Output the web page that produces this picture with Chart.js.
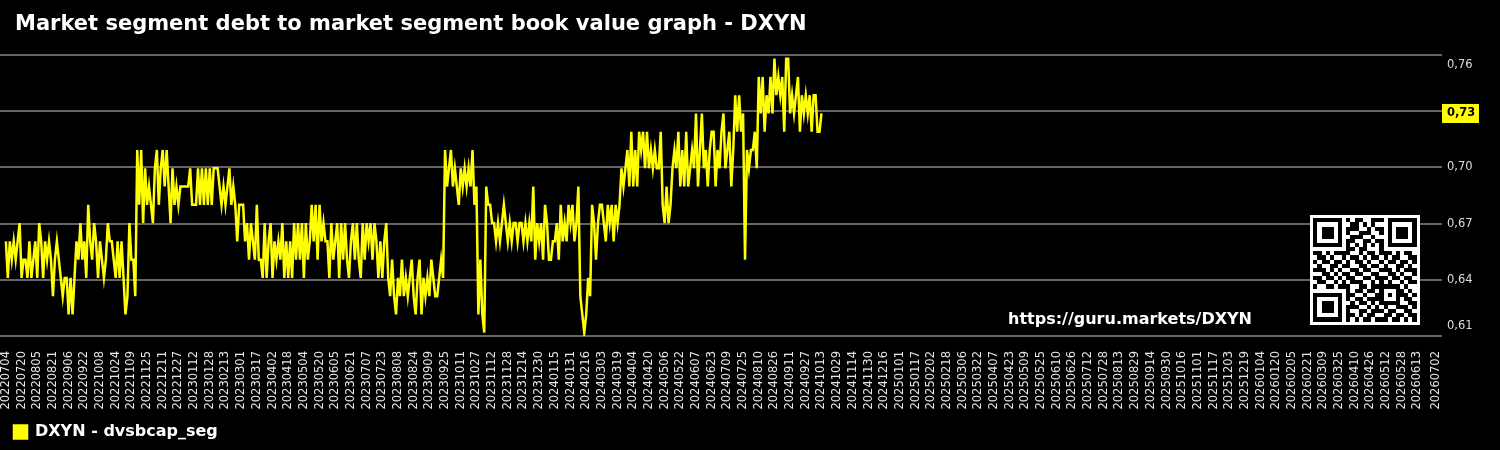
<!DOCTYPE html>
<html>
<head>
<meta charset="utf-8">
<script src="https://cdn.jsdelivr.net/npm/chart.js@4.4.1/dist/chart.umd.min.js"></script>
<style>
  html, body { margin: 0; padding: 0; background: #000; }
  canvas { display: block; }
</style>
</head>
<body>
<canvas id="chart" width="1500" height="450"></canvas>
<script>
// titles / labels
const chartTitle = 'Market segment debt to market segment book value graph - DXYN';
const seriesName = 'DXYN - dvsbcap_seg';
const siteUrl = 'https://guru.markets/DXYN';

// x axis tick labels (every 16 days, plus the last one)
const tickLabels = [
  '20220704','20220720','20220805','20220821','20220906','20220922','20221008','20221024',
  '20221109','20221125','20221211','20221227','20230112','20230128','20230213','20230301',
  '20230317','20230402','20230418','20230504','20230520','20230605','20230621','20230707',
  '20230723','20230808','20230824','20230909','20230925','20231011','20231027','20231112',
  '20231128','20231214','20231230','20240115','20240131','20240216','20240303','20240319',
  '20240404','20240420','20240506','20240522','20240607','20240623','20240709','20240725',
  '20240810','20240826','20240911','20240927','20241013','20241029','20241114','20241130',
  '20241216','20250101','20250117','20250202','20250218','20250306','20250322','20250407',
  '20250423','20250509','20250525','20250610','20250626','20250712','20250728','20250813',
  '20250829','20250914','20250930','20251016','20251101','20251117','20251203','20251219',
  '20260104','20260120','20260205','20260221','20260309','20260325','20260410','20260426',
  '20260512','20260528','20260613','20260702'
];

// series: one reading every 2 days starting at seriesStart
const seriesStart = '20220704';
const stepDays = 2;
const dvsbcapSeg = [
  0.66,0.64,0.66,0.65,0.66,0.65,0.66,0.67,0.64,0.65,
  0.65,0.64,0.66,0.64,0.65,0.66,0.64,0.67,0.66,0.64,
  0.66,0.65,0.66,0.65,0.63,0.65,0.66,0.65,0.64,0.63,
  0.64,0.64,0.62,0.64,0.62,0.64,0.66,0.65,0.67,0.65,
  0.66,0.64,0.68,0.66,0.65,0.67,0.66,0.64,0.66,0.65,
  0.64,0.65,0.67,0.66,0.66,0.65,0.64,0.66,0.64,0.66,
  0.64,0.62,0.63,0.67,0.65,0.65,0.63,0.71,0.68,0.71,
  0.67,0.70,0.68,0.69,0.68,0.67,0.70,0.71,0.68,0.70,
  0.71,0.69,0.71,0.69,0.67,0.70,0.68,0.69,0.68,0.69,
  0.69,0.69,0.69,0.69,0.70,0.68,0.68,0.68,0.70,0.68,
  0.70,0.68,0.70,0.68,0.70,0.68,0.70,0.70,0.70,0.69,
  0.68,0.69,0.68,0.69,0.70,0.68,0.69,0.68,0.66,0.68,
  0.68,0.68,0.66,0.67,0.65,0.67,0.66,0.65,0.68,0.65,
  0.65,0.64,0.67,0.64,0.66,0.67,0.64,0.66,
  0.65,0.66,0.65,0.67,0.64,0.66,0.64,0.66,0.64,0.67,
  0.65,0.67,0.65,0.67,0.64,0.67,0.65,0.66,0.68,0.66,
  0.68,0.65,0.68,0.66,0.67,0.66,0.66,0.64,0.67,0.65,
  0.66,0.67,0.64,0.67,0.65,0.67,0.65,0.64,0.66,0.67,
  0.65,0.67,0.65,0.64,0.67,0.65,0.67,0.66,0.67,0.65,
  0.67,0.66,0.64,0.66,0.64,0.66,0.67,0.64,0.63,0.65,
  0.63,0.62,0.64,0.63,0.65,0.63,0.64,0.63,0.64,0.65,
  0.63,0.62,0.64,0.65,0.62,0.64,0.63,0.64,0.63,0.65,
  0.64,0.63,0.63,0.64,0.65,0.64,0.71,0.69,0.70,0.71,
  0.69,0.70,0.69,0.68,0.70,0.69,0.70,0.69,0.70,0.69,
  0.71,0.68,0.69,0.62,0.65,0.62,0.61,0.69,0.68,0.68,
  0.67,0.67,0.66,0.67,0.66,0.67,0.68,0.67,0.66,0.67,
  0.66,0.67,0.67,0.66,0.67,0.67,0.66,0.67,0.66,0.67,
  0.66,0.69,0.65,0.67,0.66,0.67,0.65,
  0.68,0.67,0.65,0.65,0.66,0.66,0.67,0.65,0.68,0.66,
  0.67,0.66,0.68,0.67,0.68,0.66,0.67,0.69,0.63,0.62,
  0.61,0.62,0.64,0.63,0.68,0.67,0.65,0.67,0.68,0.68,
  0.67,0.66,0.68,0.67,0.68,0.66,0.68,0.67,0.68,0.70,
  0.69,0.70,0.71,0.69,0.72,0.69,0.71,0.69,0.72,0.71,
  0.72,0.70,0.72,0.70,0.71,0.70,0.71,0.70,0.70,0.72,
  0.68,0.67,0.69,0.67,0.68,0.70,0.71,0.70,0.72,0.69,
  0.71,0.69,0.72,0.69,0.70,0.71,0.70,0.73,0.69,0.71,
  0.73,0.70,0.71,0.69,0.71,0.72,0.72,0.69,0.71,0.70,
  0.72,0.73,0.70,0.71,0.72,0.69,0.71,0.74,0.72,0.74,
  0.72,0.73,0.65,0.71,0.70,0.71,0.71,0.72,0.70,0.75,
  0.73,0.75,0.72,0.74,0.73,0.75,0.73,0.76,0.74,0.75,
  0.74,0.75,0.72,0.76,0.76,0.73,0.74,0.73,0.74,0.75,
  0.72,0.74,0.73,0.74,0.73,0.74,0.72,0.74,0.74,0.72,
  0.72,0.73
];

// y range (5 equal grid steps, labels rounded to 2 decimals)
const yMin = 0.6082;
const yMax = 0.762;

// QR code modules (1 = dark)
const qrRows = [
  '1111111010110011101111111',
  '1000001001101010001000001',
  '1011101011100101101011101',
  '1011101010011100101011101',
  '1011101001110010001011101',
  '1000001011001101101000001',
  '1111111010101010101111111',
  '0000000011011000100000000',
  '1101011110010110111010110',
  '0110100101101011010110011',
  '1011011010110100101101101',
  '0100110110011011010011010',
  '1110101001101100111010111',
  '0011010110110011001101001',
  '1101101011001101110110110',
  '0110010101110010101001011',
  '1001101110011011111110100',
  '0000000010110110100011010',
  '1111111011001001101011101',
  '1000001010110111100010110',
  '1011101001011010111110011',
  '1011101011100101010011101',
  '1011101010011011101100110',
  '1000001011010110011011011',
  '1111111010101101110110101'
];

const FONT = '"DejaVu Sans", sans-serif';
const DAY = 86400000;

function toDay(s) {
  const t = Date.UTC(+s.slice(0, 4), +s.slice(4, 6) - 1, +s.slice(6, 8));
  return Math.round(t / DAY);
}
const day0 = toDay(tickLabels[0]);
const tickDays = tickLabels.map(s => toDay(s) - day0);
const startOffset = toDay(seriesStart) - day0;
const points = dvsbcapSeg.map((v, i) => ({ x: startOffset + i * stepDays, y: v }));
const lastValue = dvsbcapSeg[dvsbcapSeg.length - 1];

function fmt(v) {
  return v.toFixed(2).replace('.', ',');
}

const decor = {
  id: 'decor',
  beforeDraw(chart) {
    const ctx = chart.ctx;
    ctx.save();
    ctx.fillStyle = '#000';
    ctx.fillRect(0, 0, chart.width, chart.height);
    ctx.restore();
  },
  afterDraw(chart) {
    const ctx = chart.ctx;
    const y = chart.scales.y;
    const area = chart.chartArea;
    ctx.save();

    // title
    ctx.fillStyle = '#ffffff';
    ctx.font = 'bold 21px ' + FONT;
    ctx.textBaseline = 'middle';
    ctx.textAlign = 'left';
    ctx.fillText(chartTitle, 15, 25);

    // y tick labels
    ctx.font = '11.5px ' + FONT;
    ctx.fillStyle = '#dddddd';
    const n = y.ticks.length;
    y.ticks.forEach((t, i) => {
      let py = y.getPixelForValue(t.value);
      if (i === 0) py -= 10;
      if (i === n - 1) py += 10;
      ctx.fillText(fmt(t.value), area.right + 5, py);
    });

    // last value badge
    const ly = y.getPixelForValue(lastValue);
    ctx.fillStyle = '#ffff00';
    ctx.fillRect(area.right, ly - 9.5, 37, 19);
    ctx.fillStyle = '#000000';
    ctx.font = 'bold 11.5px ' + FONT;
    ctx.fillText(fmt(lastValue), area.right + 5, ly);

    // url
    ctx.fillStyle = '#ffffff';
    ctx.font = 'bold 16px ' + FONT;
    ctx.textAlign = 'right';
    ctx.fillText(siteUrl, 1252, 320);

    // qr code
    const qx = 1310, qy = 215, qs = 110;
    ctx.fillStyle = '#ffffff';
    ctx.fillRect(qx, qy, qs, qs);
    const m = 4.13, off = 3.3;
    ctx.fillStyle = '#000000';
    qrRows.forEach((row, r) => {
      for (let c = 0; c < row.length; c++) {
        if (row[c] === '1') {
          const x0 = Math.round(qx + off + c * m), y0 = Math.round(qy + off + r * m);
          const x1 = Math.round(qx + off + (c + 1) * m), y1 = Math.round(qy + off + (r + 1) * m);
          ctx.fillRect(x0, y0, x1 - x0, y1 - y0);
        }
      }
    });
    ctx.restore();
  }
};

new Chart(document.getElementById('chart'), {
  type: 'line',
  data: {
    datasets: [{
      label: seriesName,
      data: points,
      borderColor: '#ffff00',
      backgroundColor: '#ffff00',
      borderWidth: 2.5,
      pointRadius: 0,
      tension: 0,
      fill: false
    }]
  },
  options: {
    responsive: false,
    animation: false,
    layout: { padding: { top: 55, left: 0, right: 0, bottom: 0 } },
    plugins: {
      title: { display: false },
      tooltip: { enabled: false },
      legend: {
        position: 'bottom',
        align: 'start',
        labels: {
          boxWidth: 13,
          boxHeight: 13,
          padding: 14,
          color: '#ffffff',
          font: { family: FONT, size: 16, weight: 'bold' }
        }
      }
    },
    scales: {
      x: {
        type: 'linear',
        min: -6,
        max: 1465,
        grid: { display: false, drawTicks: false },
        border: { display: false },
        afterBuildTicks: s => { s.ticks = tickDays.map(v => ({ value: v })); },
        afterFit: s => { s.height = 74; s.paddingLeft = 0; s.paddingRight = 0; },
        ticks: {
          autoSkip: false,
          minRotation: 90,
          maxRotation: 90,
          padding: 15,
          color: '#e6e6e6',
          font: { family: FONT, size: 11.5 },
          callback: (v, i) => tickLabels[i]
        }
      },
      y: {
        position: 'right',
        min: yMin,
        max: yMax,
        grid: { color: '#646464', lineWidth: 2, drawTicks: false },
        border: { display: false },
        afterBuildTicks: s => {
          const ticks = [];
          for (let i = 0; i <= 5; i++) ticks.push({ value: yMin + (yMax - yMin) * i / 5 });
          s.ticks = ticks;
        },
        afterFit: s => { s.width = 58; },
        ticks: { display: false }
      }
    }
  },
  plugins: [decor]
});
</script>
</body>
</html>
